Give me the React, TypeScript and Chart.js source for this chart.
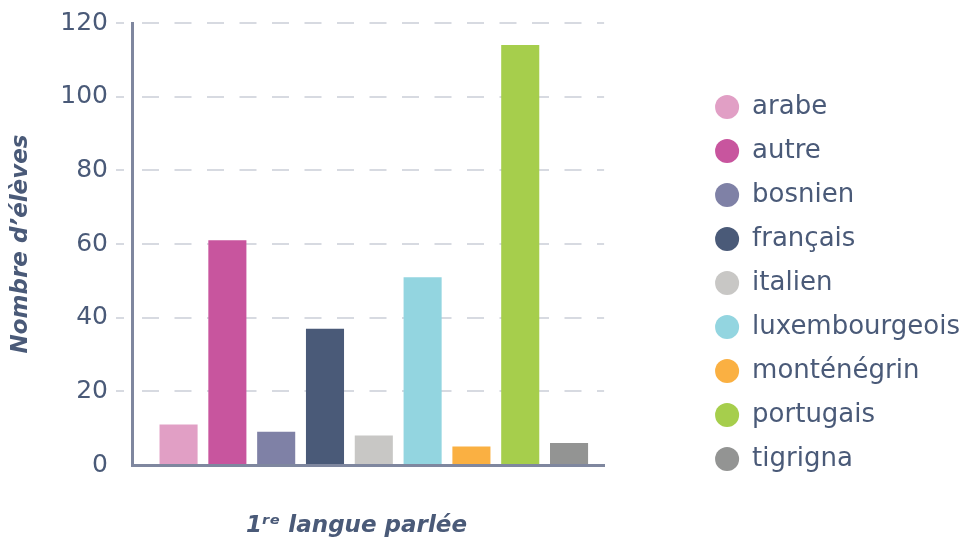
import React, { useEffect, useRef } from "react";
import { Chart, registerables } from "chart.js";

Chart.register(...registerables);

const languages = [
  "arabe",
  "autre",
  "bosnien",
  "français",
  "italien",
  "luxembourgeois",
  "monténégrin",
  "portugais",
  "tigrigna",
];
const studentCounts = [11, 61, 9, 37, 8, 51, 5, 114, 6];
const barColors = [
  "#e19fc5",
  "#c8559e",
  "#7f81a6",
  "#4a5a78",
  "#c8c7c5",
  "#93d5e0",
  "#fab042",
  "#a6ce4c",
  "#939493",
];
const yTicks = [0, 20, 40, 60, 80, 100, 120];
const yTitle = "Nombre d’élèves";
const xTitle = "1ʳᵉ langue parlée\u2003";

const FONT = "'DejaVu Sans', sans-serif";
const TEXT_COLOR = "#4a5a78";
const AXIS_COLOR = "#7f879f";
const GRID_COLOR = "rgba(208, 212, 220, 0.85)";

export default function App() {
  const ref = useRef<HTMLCanvasElement>(null);

  useEffect(() => {
    const canvas = ref.current;
    if (!canvas) return;
    const chart = new Chart(canvas, {
      type: "bar",
      data: {
        datasets: languages.map((lang, i) => ({
          label: lang,
          data: [{ x: i, y: studentCounts[i] }],
          backgroundColor: barColors[i],
          borderWidth: 0,
          barPercentage: 0.78,
          categoryPercentage: 1,
        })),
      },
      options: {
        responsive: false,
        animation: false,
        events: [],
        layout: { padding: { top: 19, left: 0, right: 0, bottom: 0 } },
        plugins: {
          tooltip: { enabled: false },
          legend: {
            position: "right",
            align: "center",
            maxWidth: 320,
            title: {
              display: true,
              text: "",
              font: { family: FONT, size: 4 },
              padding: 0,
            },
            labels: {
              usePointStyle: true,
              pointStyle: "circle",
              boxWidth: 24,
              boxHeight: 17,
              padding: 18,
              color: TEXT_COLOR,
              font: { family: FONT, size: 26 },
            },
          },
        },
        scales: {
          x: {
            type: "linear",
            min: -0.954,
            max: 8.718,
            offset: false,
            stacked: true,
            z: 1,
            grid: { display: false, offset: false },
            ticks: { display: false },
            border: { display: true, color: AXIS_COLOR, width: 3 },
            title: {
              display: true,
              text: xTitle,
              color: TEXT_COLOR,
              font: { family: FONT, size: 23, weight: "bold", style: "italic" },
              padding: { top: 0, bottom: 2 },
            },
            afterFit: (s: any) => {
              s.height = 77;
            },
          },
          y: {
            min: 0,
            max: 120,
            z: 1,
            afterBuildTicks: (s: any) => {
              s.ticks = yTicks.map((v) => ({ value: v }));
            },
            ticks: {
              color: TEXT_COLOR,
              font: { family: FONT, size: 25 },
              padding: 8,
            },
            grid: {
              color: (ctx: any) =>
                ctx.tick && ctx.tick.value === 0 ? "rgba(0,0,0,0)" : GRID_COLOR,
              lineWidth: 2,
              tickLength: 16,
              tickBorderDash: [8, 40],
              drawTicks: true,
            },
            border: {
              display: true,
              color: AXIS_COLOR,
              width: 3,
              dash: [17, 15.5],
              dashOffset: 24.5,
            },
            title: {
              display: true,
              text: yTitle,
              color: TEXT_COLOR,
              font: { family: FONT, size: 23, weight: "bold", style: "italic" },
              padding: { top: 7, bottom: 0 },
            },
            afterFit: (s: any) => {
              s.width = 132;
            },
          },
          y2: {
            type: "linear",
            position: "right",
            display: true,
            grid: { display: false },
            ticks: { display: false },
            border: { display: false },
            afterFit: (s: any) => {
              s.width = 93;
            },
          },
        },
      },
    } as any);
    return () => chart.destroy();
  }, []);

  return (
    <canvas
      ref={ref}
      width={970}
      height={542}
      style={{ position: "absolute", left: 0, top: 0, width: 970, height: 542 }}
    />
  );
}
